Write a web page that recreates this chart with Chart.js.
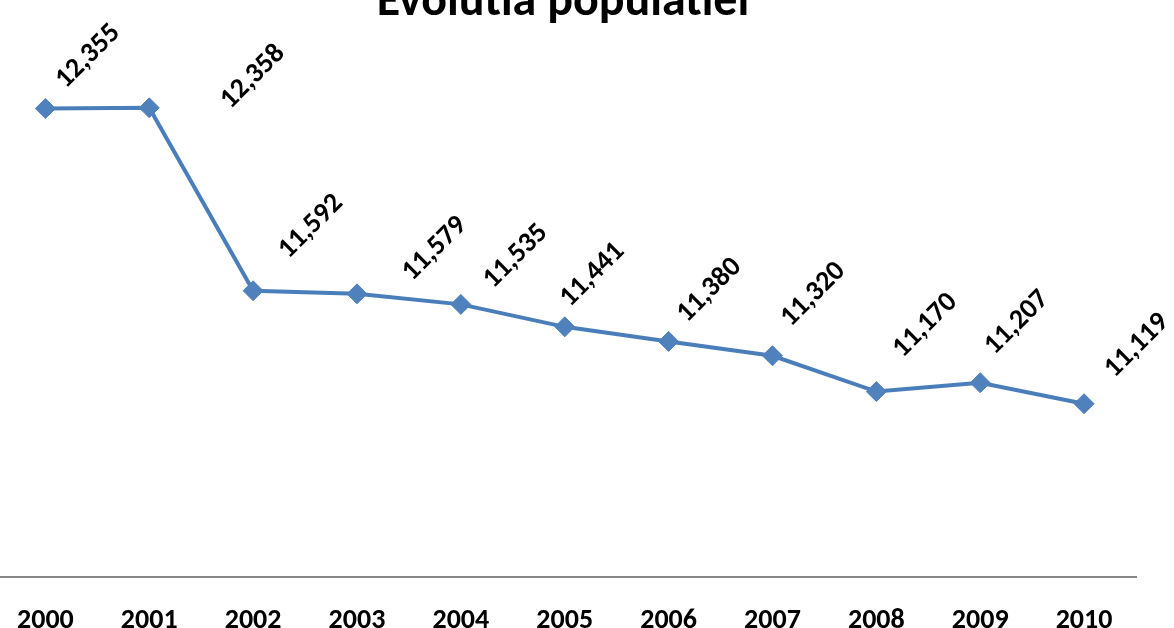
<!DOCTYPE html>
<html>
<head>
<meta charset="utf-8">
<script src="https://cdn.jsdelivr.net/npm/chart.js@4"></script>
<style>
  html, body { margin: 0; padding: 0; background: #fff; overflow: hidden; }
  body { width: 1174px; height: 628px; position: relative; }
  #wrap { position: absolute; left: -10px; top: -40px; width: 1184px; height: 706px; }
</style>
</head>
<body>
<div id="wrap"><canvas id="populatie"></canvas></div>
<script>
// ani si populatia
const years = ['2000', '2001', '2002', '2003', '2004', '2005', '2006', '2007', '2008', '2009', '2010'];
const population = [12355, 12358, 11592, 11579, 11535, 11441, 11380, 11320, 11170, 11207, 11119];

// deplasarea etichetelor fata de punct (px)
const labelDx = [43, 104, 58, 78, 55, 28, 41, 41, 49, 37, 53];
const labelDy = [-52, -31, -64, -45, -48, -52, -51, -61, -66, -60, -58];

const FONT = 'Carlito, Lato, "Open Sans", sans-serif';

// etichete rotite la -45 grade
const valueLabels = {
   id: 'valueLabels',
   afterDatasetsDraw(chart) {
      const ctx = chart.ctx;
      const meta = chart.getDatasetMeta(0);
      ctx.save();
      ctx.fillStyle = '#000';
      ctx.font = 'bold 28px ' + FONT;
      ctx.textAlign = 'center';
      ctx.textBaseline = 'middle';
      meta.data.forEach((pt, i) => {
         ctx.save();
         ctx.translate(pt.x + labelDx[i], pt.y + labelDy[i]);
         ctx.rotate(-Math.PI / 4);
         ctx.fillText(population[i].toLocaleString('en-US'), 0, 0);
         ctx.restore();
      });
      ctx.restore();
   }
};

const chart = new Chart(document.getElementById('populatie').getContext('2d'), {
   type: 'line',
   data: {
      labels: years,
      datasets: [{
         label: 'Populatie',
         data: population,
         borderColor: '#4A7EBB',
         borderWidth: 4,
         tension: 0,
         pointStyle: 'rectRot',
         pointRadius: 10,
         pointHoverRadius: 10,
         pointBackgroundColor: '#4F81BD',
         pointBorderColor: '#4F81BD',
         pointBorderWidth: 1,
         clip: false
      }]
   },
   options: {
      responsive: true,
      maintainAspectRatio: false,
      animation: false,
      layout: { autoPadding: false, padding: { left: 0, right: 38, top: 0, bottom: 1 } },
      plugins: {
         legend: { display: false },
         tooltip: { enabled: false },
         title: {
            display: true,
            text: 'Evolutia populatiei',
            color: '#000',
            font: { family: FONT, size: 48, weight: 'bold' },
            padding: { top: 14, bottom: 0 }
         }
      },
      scales: {
         x: {
            offset: true,
            grid: { display: false, drawTicks: false },
            border: { display: true, color: '#868686', width: 2 },
            ticks: { color: '#000', padding: 27, font: { family: FONT, size: 28, weight: 'bold' } }
         },
         y: {
            display: false,
            min: 10392,
            max: 12677
         }
      }
   },
   plugins: [valueLabels]
});
</script>
</body>
</html>
